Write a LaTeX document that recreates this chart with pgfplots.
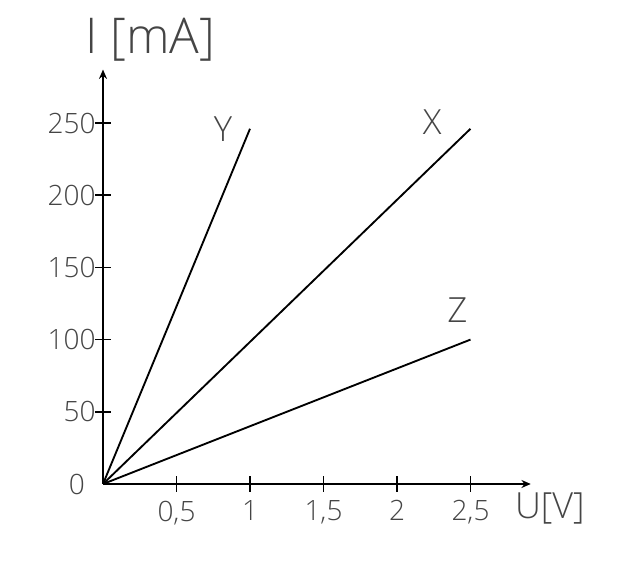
\documentclass[border=0pt]{standalone}
\usepackage{fontspec}
\setmainfont{Open Sans}[UprightFont={* Light}]
\usepackage{pgfplots}
\pgfplotsset{compat=1.18}
\usetikzlibrary{arrows.meta}
\definecolor{txt}{HTML}{454545}
\begin{document}
\begin{tikzpicture}
\path[use as bounding box] (-77.25pt,-64.5pt) rectangle (402.75pt,363pt);
\begin{axis}[
 at={(0pt,0pt)}, anchor=origin,
 x=110.25pt, y=1.083pt,
 xmin=0, xmax=2.91, ymin=0, ymax=287,
 axis lines=left,
 axis line style={line width=1.6pt, -{Stealth[length=7pt,width=6pt]}},
 clip=false,
 tick style={black, line width=1.2pt},
 major tick length=12pt,
 tick align=center,
 xtick={0.5,1,1.5,2,2.5},
 ytick={50,100,150,200,250},
 extra y ticks={0},
 extra y tick style={major tick length=0pt, yticklabel style={xshift=-14pt}},
 /pgf/number format/use comma,
 /pgf/number format/assume math mode=true,
 ticklabel style={font=\fontsize{21}{21}\selectfont, text=txt},
 xticklabel style={yshift=-3pt},
 yticklabel style={xshift=4pt},
]
\addplot[black, line width=1.4pt] coordinates {(0,0) (1,246)};
\addplot[black, line width=1.4pt] coordinates {(0,0) (2.5,246)};
\addplot[black, line width=1.4pt] coordinates {(0,0) (2.5,100)};
\node[text=txt, font=\fontsize{26}{26}\selectfont] at (axis cs:0.816,245.8) {Y};
\node[text=txt, font=\fontsize{26}{26}\selectfont] at (axis cs:2.24,250.7) {X};
\node[text=txt, font=\fontsize{26}{26}\selectfont] at (axis cs:2.41,120.5) {Z};
\node[text=txt, font=\fontsize{37}{37}\selectfont] at (axis cs:0.32,307.5) {I [mA]};
\node[text=txt, font=\fontsize{27}{27}\selectfont] at (axis cs:3.04,-17) {U[V]};
\end{axis}
\end{tikzpicture}
\end{document}
